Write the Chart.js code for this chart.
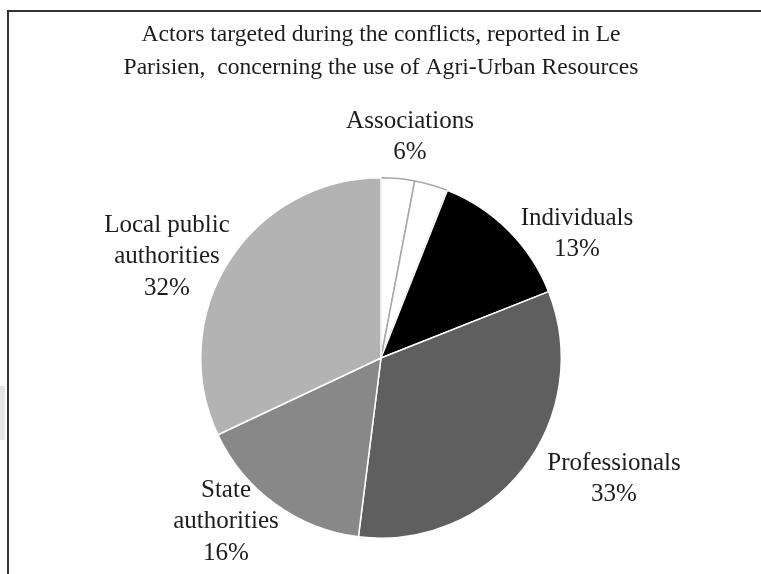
<!DOCTYPE html>
<html lang="en">
<head>
    <meta charset="UTF-8">
    <title>Actors targeted during the conflicts</title>
    <script src="https://cdn.jsdelivr.net/npm/chart.js"></script>
    <style>
        html, body { margin: 0; padding: 0; background: #fff; }
        #wrap { position: relative; width: 761px; height: 574px; }
        #edge { position: absolute; left: 0; top: 386px; width: 5px; height: 54px; background: #e4e4e4; }
    </style>
</head>
<body>
<div id="wrap">
    <canvas id="pieChart" width="761" height="574"></canvas>
    <div id="edge"></div>
</div>

<script>
    // Associations is split in two white slices of 3% each
    const categories = ['Associations', 'Associations', 'Individuals', 'Professionals', 'State authorities', 'Local public authorities'];
    const shares = [3, 3, 13, 33, 16, 32];
    const sliceColors = ['#ffffff', '#ffffff', '#000000', '#5f5f5f', '#888888', '#b3b3b3'];
    const edgeColors = ['#a8a8a8', '#a8a8a8', '#ffffff', '#ffffff', '#ffffff', '#ffffff'];

    const titleLines = ['Actors targeted during the conflicts, reported in Le', 'Parisien,  concerning the use of Agri-Urban Resources'];

    // label text lines with the share shown under each
    const labels = [
        { lines: ['Associations', '6%'], x: 410, y: 121 },
        { lines: ['Individuals', '13%'], x: 577, y: 218 },
        { lines: ['Professionals', '33%'], x: 614, y: 463 },
        { lines: ['State', 'authorities', '16%'], x: 226, y: 490 },
        { lines: ['Local public', 'authorities', '32%'], x: 167, y: 225 }
    ];

    const textPlugin = {
        id: 'textPlugin',
        beforeDraw(chart) {
            const ctx = chart.ctx;
            ctx.save();
            ctx.fillStyle = '#fff';
            ctx.fillRect(0, 0, chart.width, chart.height);
            ctx.strokeStyle = '#333';
            ctx.lineWidth = 2;
            ctx.strokeRect(8, 11, chart.width + 20, chart.height + 20);
            ctx.restore();
        },
        afterDraw(chart) {
            const ctx = chart.ctx;
            ctx.save();
            ctx.fillStyle = '#1c1c1c';
            ctx.textAlign = 'center';
            ctx.textBaseline = 'middle';
            ctx.font = '23.6px "Liberation Serif", "Times New Roman", serif';
            titleLines.forEach((t, i) => ctx.fillText(t, 381, 35 + i * 33));
            ctx.font = '25px "Liberation Serif", "Times New Roman", serif';
            labels.forEach(l => {
                l.lines.forEach((t, i) => ctx.fillText(t, l.x, l.y + i * 31.5));
            });
            ctx.restore();
        }
    };

    new Chart(document.getElementById('pieChart').getContext('2d'), {
        type: 'pie',
        data: {
            labels: categories,
            datasets: [{
                data: shares,
                backgroundColor: sliceColors,
                borderColor: edgeColors,
                borderWidth: 1.5
            }]
        },
        options: {
            responsive: false,
            animation: false,
            layout: { padding: { left: 200, right: 199, top: 177, bottom: 35 } },
            plugins: {
                legend: { display: false },
                tooltip: { enabled: false }
            }
        },
        plugins: [textPlugin]
    });
</script>
</body>
</html>
